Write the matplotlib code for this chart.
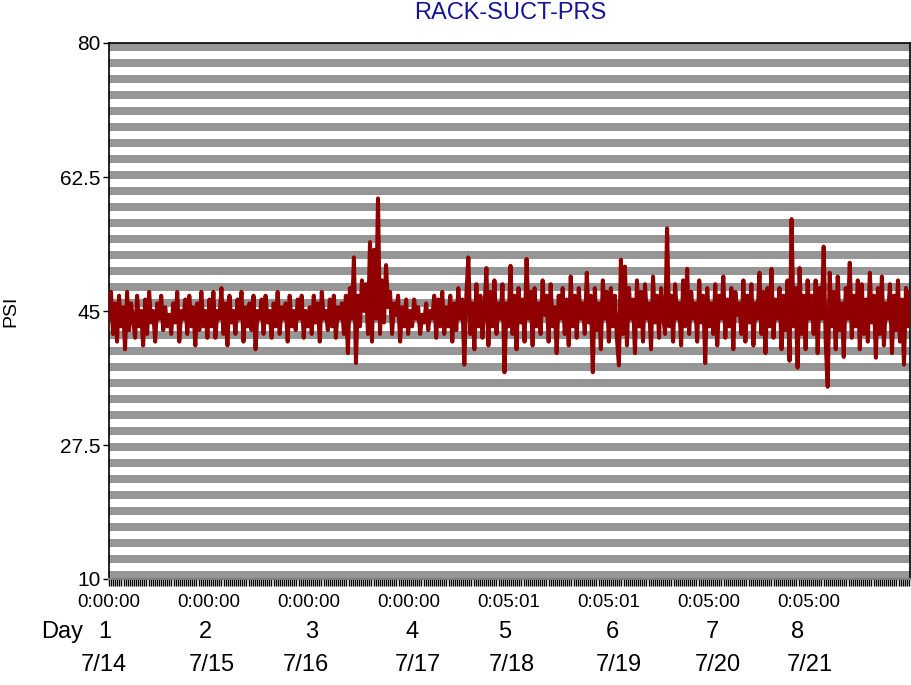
import numpy as np
import matplotlib
matplotlib.use("Agg")
import matplotlib.pyplot as plt

plt.rcParams['font.family'] = ['Liberation Sans', 'DejaVu Sans']

title = "RACK-SUCT-PRS"
y_label = "PSI"
y_ticks = [10, 27.5, 45, 62.5, 80]
y_tick_labels = ["10", "27.5", "45", "62.5", "80"]
x_tick_days = [0, 1, 2, 3, 4, 5, 6, 7]
x_tick_labels = ["0:00:00", "0:00:00", "0:00:00", "0:00:00",
                 "0:05:01", "0:05:01", "0:05:00", "0:05:00"]
day_numbers = ["1", "2", "3", "4", "5", "6", "7", "8"]
dates = ["7/14", "7/15", "7/16", "7/17", "7/18", "7/19", "7/20", "7/21"]

day1 = [44, 47.5, 42, 46, 41, 47, 43, 45.5, 40, 47.5, 42.5, 46, 44, 41.5, 47, 43, 45, 40.5, 46.5, 42,
        47.5, 43.5, 45, 41, 46, 44, 47, 42.5, 45.5, 43, 44.5, 42, 46, 43.5, 47.5, 41, 45, 44, 46.5, 42,
        47, 43, 45.5, 40.5, 46, 42.5, 47.5, 43, 45, 41.5]
day2 = [46.5, 43, 47.5, 41.5, 45, 44, 48, 42, 46, 40.5, 47, 43.5, 45, 42, 46.5, 44, 47.5, 41, 45.5, 43,
        46, 42.5, 47, 40, 45, 44, 46.5, 42, 47, 43.5, 45, 41.5, 46, 43, 47.5, 42, 45.5, 44, 46, 41,
        47, 43, 45, 42.5, 46.5, 44, 47, 41.5, 45, 43]
day3 = [45.5, 42, 47, 43.5, 46, 41, 47.5, 44, 45, 42.5, 46.5, 43, 47, 41.5, 45.5, 44, 46, 42, 47, 39.5,
        48, 44, 52, 38.2, 47, 43, 49, 45, 48.5, 42, 54, 41, 53, 44, 59.7, 42, 49, 43.5, 51, 45.5,
        47.5, 42, 46, 44.5, 47, 41, 45.5, 43, 46.5, 42]
day4 = [45, 43, 46.5, 44, 45.5, 42, 44.5, 43.5, 46, 42.5, 45, 44, 47, 41.5, 46.5, 43, 47.5, 42, 45.5, 43,
        47, 41, 46, 42.5, 48, 44, 46.5, 38, 47, 52, 42, 46, 40, 48.5, 43, 47, 41.5, 45, 50.6, 40.5,
        47.5, 43, 49, 42, 46, 44, 48.5, 37, 46, 43]
day5 = [50.9, 42, 47, 40, 48, 43.5, 46.5, 41, 51.8, 44, 47.5, 40.5, 48, 43, 46, 42, 49, 44.5, 47, 41,
        48.5, 43, 45.5, 39.5, 47, 44, 48, 42, 46.5, 40.5, 49.5, 43, 47, 41.5, 48, 44, 46, 42, 50, 43.5,
        47, 37, 48, 42.5, 46, 40, 49, 44, 47.5, 41]
day6 = [48, 43, 47, 41.5, 37.9, 51.7, 42, 50.8, 40.5, 48, 44, 46.5, 39.5, 49, 43, 47.5, 41, 48.5, 44, 46,
        40, 49.5, 43.5, 47, 41.5, 48, 44.5, 42, 55.8, 43, 47, 41, 48.5, 44, 46, 40.5, 49, 43, 50.5, 42,
        47.5, 44, 46, 41, 49, 43.5, 47, 38.2, 48, 43]
day7 = [46, 42, 48.5, 40.5, 47, 44, 49.5, 41.5, 46.5, 43, 48, 40, 47.5, 44.5, 46, 42, 49, 41, 47, 43.5,
        48.5, 40.5, 46, 44, 50, 42, 47.5, 39.5, 48, 43, 50.5, 41.5, 46.5, 44, 48, 40, 47, 42.5, 49, 38.5,
        57, 43, 48, 37.6, 50.6, 42, 47, 40, 49, 44]
day8 = [47, 42, 49, 39.5, 48, 44, 53.4, 41, 35.1, 50, 43, 47.5, 40, 49.5, 42.5, 46, 39, 48, 44, 51.3,
        41.5, 47, 43, 49, 40, 48.5, 42, 46.5, 41, 50, 43.5, 47, 38.9, 48, 42, 49.5, 40.5, 46, 44, 48.5,
        39.5, 47, 42.5, 49, 41, 46.5, 38, 48, 43, 47.5]

psi = np.array(day1 + day2 + day3 + day4 + day5 + day6 + day7 + day8)
x_end = 8.01
t = np.linspace(0, x_end, len(psi))

fig = plt.figure(figsize=(9.12, 6.85), dpi=100)
ax = fig.add_axes([109/912, 1 - 579/685, 801/912, 536/685])

# striped background
n_bands = 67
for i in range(0, n_bands, 2):
    ax.axhspan(10 + 70 * i / n_bands, 10 + 70 * (i + 1) / n_bands,
               color='#969696', lw=0, zorder=0)

ax.plot(t, psi, color='#900000', lw=2.9, zorder=3)

ax.set_xlim(0, x_end)
ax.set_ylim(10, 80)
ax.set_yticks(y_ticks)
ax.set_yticklabels(y_tick_labels, fontsize=15)
ax.set_xticks(x_tick_days)
ax.set_xticklabels(x_tick_labels, fontsize=13.5)
ax.set_xticks(np.arange(0, x_end, 1/48), minor=True)
ax.tick_params(axis='x', which='both', length=5, width=1, direction='out', pad=6)
ax.tick_params(axis='y', length=4, width=1, direction='out', pad=2)
ax.set_ylabel(y_label, fontsize=14)
ax.yaxis.set_label_coords(-0.112, 0.5)

for side in ['left', 'top', 'right']:
    ax.spines[side].set_color('black')
    ax.spines[side].set_linewidth(1.2)
ax.spines['bottom'].set_color('#808080')
ax.spines['bottom'].set_linewidth(1.5)

fig.text(510/912, 1 - 13/685, title, color='#14149a', fontsize=17,
         ha='center', va='center')

fig.text(62/912, 1 - 632/685, "Day", fontsize=17, ha='center', va='center')
day_x = [105, 205, 312, 412, 505, 612, 712, 798]
date_x = [104, 212, 306, 418, 512, 619, 718, 810]
for dx, d in zip(day_x, day_numbers):
    fig.text(dx/912, 1 - 632/685, d, fontsize=17, ha='center', va='center')
for dx, d in zip(date_x, dates):
    fig.text(dx/912, 1 - 665/685, d, fontsize=17, ha='center', va='center')

fig.savefig("out.png", dpi=100)
